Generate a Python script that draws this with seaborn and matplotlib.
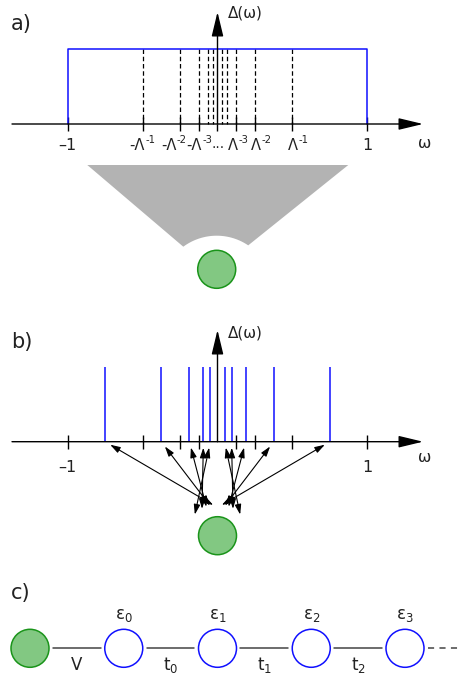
import numpy as np
import matplotlib
matplotlib.use("Agg")
import matplotlib.pyplot as plt
import seaborn as sns

# --- data ----------------------------------------------------------------
# discretisation points w = +/- Lambda^-n (Lambda = 2), dashed in panel a
grid_w = [0.5, 0.25, 0.125, 0.0625, 0.03125]
# representative energies of each interval, spikes in panel b
spike_w = [0.75, 0.375, 0.1875, 0.09375, 0.046875]
# tick positions that carry a tick mark
tick_w = [-1, -0.5, -0.25, -0.125, 0.125, 0.25, 0.5, 1]
# tick labels of panel a: base part and superscript part
lam_tick_w = [-0.5, -0.25, -0.125, 0.125, 0.25, 0.5]
lam_base = ["-\u039b", "-\u039b", "-\u039b", "\u039b", "\u039b", "\u039b"]
lam_sup = ["-1", "-2", "-3", "-3", "-2", "-1"]
lam_shift_px = [2.5, -3.3, 3, 1.7, 6, 5.8]   # where base and superscript meet, relative to tick
end_tick_w = [-1, 1]
end_tick_lab = ["\u20131", "1"]
# Wilson chain (panel c)
chain_x = [-1.25, -0.625, 0.0, 0.625, 1.25]
onsite_lab = [r"ε$_{0}$", r"ε$_{1}$", r"ε$_{2}$", r"ε$_{3}$"]
hop_lab = ["V", r"t$_{0}$", r"t$_{1}$", r"t$_{2}$"]

# --- layout (pixel rows, x in omega units) --------------------------------
X0, SCALE = 217.5, 150.0          # pixel of w=0, pixels per unit w
def w(px):
    return (px - X0) / SCALE

BLUE = "#1010ff"
GREEN_FILL = "#82c882"
GREEN_EDGE = "#1a941a"
TXT = "#222222"
R_DOT = 19.0

sns.set_theme(style="white")
plt.rcParams["font.family"] = ["DejaVu Sans"]
plt.rcParams["mathtext.fontset"] = "dejavusans"

fig = plt.figure(figsize=(4.6, 6.77), dpi=100)
ax = fig.add_axes([0, 0, 1, 1])
ax.set_xlim(w(0), w(460))
ax.set_ylim(677, 0)
ax.axis("off")


def axis_arrow(ax, x0, y0, x1, y1):
    ax.annotate("", xy=(x1, y1), xytext=(x0, y0),
                arrowprops=dict(arrowstyle="-|>,head_length=15,head_width=3.6",
                                mutation_scale=1, color="black", lw=1.0,
                                shrinkA=0, shrinkB=0))


def dot(ax, x, y, face, edge):
    ax.add_patch(matplotlib.patches.Ellipse((x, y), 2 * R_DOT / SCALE, 2 * R_DOT,
                                            facecolor=face, edgecolor=edge, lw=1.1, zorder=5))


def ticks(ax, y, positions, half=7):
    ax.vlines(positions, y - half, y + half, color="black", lw=1.0)


# ===================== panel a ============================================
A_AXIS, A_TOP, A_TIP = 124.0, 49.3, 12.0
ax.text(w(11), 30, "a)", fontsize=15, color=TXT, va="baseline")
# flat hybridisation function
ax.plot([-1, -1, 1, 1], [A_AXIS, A_TOP, A_TOP, A_AXIS], color=BLUE, lw=1.1, zorder=3)
grid_all = [-g for g in grid_w] + grid_w
ax.vlines(grid_all, A_TOP, A_AXIS, color="black", lw=0.9, linestyles=(0, (3.6, 2.2)))
ticks(ax, A_AXIS, tick_w)
ax.vlines([0], A_AXIS, A_AXIS + 7, color="black", lw=1.0)
axis_arrow(ax, w(12), A_AXIS, w(423), A_AXIS)
axis_arrow(ax, 0, A_AXIS, 0, A_TIP)
for xv, lab in zip(end_tick_w, end_tick_lab):
    ax.text(xv, 150, lab, fontsize=11.5, ha="center", va="baseline", color=TXT)
for xv, base, sup, sh in zip(lam_tick_w, lam_base, lam_sup, lam_shift_px):
    ax.annotate(base, xy=(xv, 150), xytext=(sh * 0.72, 0), textcoords="offset points",
                fontsize=10.5, ha="right", va="baseline", color=TXT)
    ax.annotate(sup, xy=(xv, 150), xytext=(sh * 0.72 + 0.2, 4.8), textcoords="offset points",
                fontsize=7.2, ha="left", va="baseline", color=TXT)
ax.text(w(218.3), 148, "...", fontsize=10, ha="center", va="baseline", color=TXT)
ax.text(w(425), 148, "\u03c9", fontsize=11.5, ha="center", va="baseline", color=TXT)
ax.text(w(228), 18, "\u0394(\u03c9)", fontsize=11, ha="left", va="baseline", color=TXT)

# funnel with a circular bite towards the impurity
arc_c, arc_r = (216.7, 291.9), 56.2
t0 = np.arctan2(246.7 - arc_c[1], 247.3 - arc_c[0])
t1 = np.arctan2(246.7 - arc_c[1], 183.3 - arc_c[0])
tt = np.linspace(t0, t1, 60) if t1 < t0 else np.linspace(t0, t1 - 2 * np.pi, 60)
arc_px = arc_c[0] + arc_r * np.cos(tt)
arc_py = arc_c[1] + arc_r * np.sin(tt)
fx = np.concatenate([[87.3, 348.3], arc_px])
fy = np.concatenate([[165.0, 165.0], arc_py])
ax.fill(w(fx), fy, color="#b3b3b3", lw=0)
dot(ax, w(216.7), 269.3, GREEN_FILL, GREEN_EDGE)

# ===================== panel b ============================================
B_AXIS, B_TOP, B_TIP = 441.7, 367.0, 330.0
ax.text(w(11), 348, "b)", fontsize=15, color=TXT, va="baseline")
spikes_all = [-s for s in spike_w] + spike_w
ax.vlines(spikes_all, B_TOP, B_AXIS, color=BLUE, lw=1.1, zorder=3)
ticks(ax, B_AXIS, tick_w)
axis_arrow(ax, w(12), B_AXIS, w(423), B_AXIS)
axis_arrow(ax, 0, B_AXIS, 0, B_TIP)
for xv, lab in zip(end_tick_w, end_tick_lab):
    ax.text(xv, 472, lab, fontsize=11.5, ha="center", va="baseline", color=TXT)
ax.text(w(425), 462, "\u03c9", fontsize=11.5, ha="center", va="baseline", color=TXT)
ax.text(w(228), 337, "\u0394(\u03c9)", fontsize=11, ha="left", va="baseline", color=TXT)

# double arrows fanning out from the impurity to every spike
B_DOT = (217.5, 535.7)
fan_deg = [98, 104, 111, 120, 137]     # inner -> outer spike, measured from +x
for sign in (-1, 1):
    for s, ang in zip(spike_w, fan_deg):
        a = np.deg2rad(ang)
        sx = B_DOT[0] + sign * 31 * abs(np.cos(a))
        sy = B_DOT[1] - 31 * np.sin(a)
        tx, ty = X0 + SCALE * sign * s, B_AXIS
        d = np.array([tx - sx, ty - sy])
        u = d / np.hypot(*d)
        ex, ey = tx - 6 * u[0], ty - 6 * u[1]
        ax.annotate("", xy=(w(ex), ey), xytext=(w(sx), sy),
                    arrowprops=dict(arrowstyle="<|-|>,head_length=6,head_width=1.9",
                                    mutation_scale=1, color="black", lw=0.8,
                                    shrinkA=0, shrinkB=0))
dot(ax, w(B_DOT[0]), B_DOT[1], GREEN_FILL, GREEN_EDGE)

# ===================== panel c ============================================
C_Y = 648.3
ax.text(w(11), 599, "c)", fontsize=15, color=TXT, va="baseline")
gap = (R_DOT + 4) / SCALE
for i in range(len(chain_x) - 1):
    ax.plot([chain_x[i] + gap, chain_x[i + 1] - gap], [C_Y, C_Y], color="#444444", lw=1.1)
    ax.text((chain_x[i] + chain_x[i + 1]) / 2, 670, hop_lab[i], fontsize=12,
            ha="center", va="baseline", color=TXT)
ax.plot([chain_x[-1] + gap, w(462)], [C_Y, C_Y], color="#444444", lw=1.1, ls=(0, (4, 3.5)))
dot(ax, chain_x[0], C_Y, GREEN_FILL, GREEN_EDGE)
for xv, lab in zip(chain_x[1:], onsite_lab):
    dot(ax, xv, C_Y, "white", BLUE)
    ax.text(xv, 619.5, lab, fontsize=12, ha="center", va="baseline", color=TXT)

fig.savefig("out.png", dpi=100)
